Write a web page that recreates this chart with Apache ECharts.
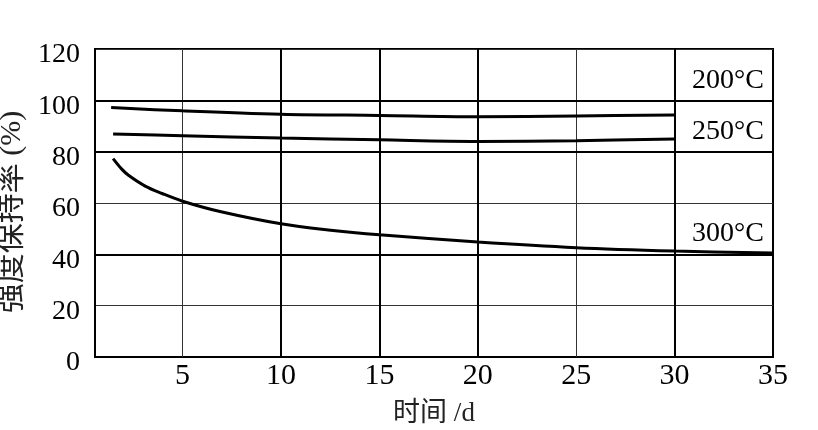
<!DOCTYPE html>
<html>
<head>
<meta charset="utf-8">
<script src="https://cdn.jsdelivr.net/npm/echarts@6/dist/echarts.min.js"></script>
<style>html,body{margin:0;padding:0;background:#fff;}#c{width:818px;height:430px;}</style>
</head>
<body>
<div id="c"></div>
<script>
// data
const s200 = [[1.37, 97.2], [5, 95.9], [10, 94.6], [15, 94.1], [20, 93.6], [25, 93.9], [30, 94.3]];
const s250 = [[1.47, 86.9], [5, 86.2], [10, 85.3], [15, 84.6], [20, 84.0], [25, 84.3], [30, 84.9]];
const s300 = [[1.47, 77.3], [1.91, 73.2], [2.25, 70.8], [3.1, 66.6], [3.96, 63.7], [5, 60.7], [6.9, 56.7], [10, 51.9], [12.4, 49.5], [15, 47.6], [20, 44.8], [25, 42.6], [30, 41.3], [35, 40.5]];
const xTicks = [5, 10, 15, 20, 25, 30, 35];
const xThin = [5, 25];
const xThick = [10, 15, 20, 30];
const yThick = [40, 80, 100];
const seriesNames = ['200°C', '250°C', '300°C'];

const serif = '"Liberation Serif", "Times New Roman", serif';
const mixed = '"Liberation Serif", "Noto Sans CJK SC", serif';

const chart = echarts.init(document.getElementById('c'), null, {renderer: 'canvas'});

const gridLines = [].concat(
  xThin.map(v => ({xAxis: v, lineStyle: {width: 1, color: '#333', type: 'solid'}})),
  xThick.map(v => ({xAxis: v, lineStyle: {width: 2, color: '#000', type: 'solid'}})),
  yThick.map(v => ({yAxis: v, lineStyle: {width: 2, color: '#000', type: 'solid'}}))
);

function lineSeries(name, data, extra) {
  return Object.assign({
    name: name,
    type: 'line',
    data: data,
    smooth: 0.35,
    showSymbol: false,
    symbol: 'none',
    lineStyle: {color: '#000', width: 3},
    z: 5
  }, extra || {});
}

chart.setOption({
  animation: false,
  backgroundColor: '#fff',
  grid: {left: 95, right: 45, top: 49, bottom: 73, outerBoundsMode: 'none', containLabel: false, show: true, borderColor: '#000', borderWidth: 2, backgroundColor: 'transparent'},
  xAxis: {
    type: 'value',
    min: 0.55,
    max: 35,
    name: '时间 /d',
    nameLocation: 'middle',
    nameGap: 43,
    nameTextStyle: {fontFamily: mixed, fontSize: 27, color: '#222'},
    axisLine: {show: true, lineStyle: {color: '#000', width: 2}},
    axisTick: {show: false},
    splitLine: {show: false},
    axisLabel: {
      customValues: xTicks,
      fontFamily: serif,
      fontSize: 30,
      color: '#000',
      margin: 4
    }
  },
  yAxis: {
    type: 'value',
    min: 0,
    max: 120,
    interval: 20,
    name: '强度保持率 (%)',
    nameLocation: 'middle',
    nameGap: 66,
    nameRotate: 90,
    nameTextStyle: {fontFamily: mixed, fontSize: 30, color: '#222', padding: [0, 18, 0, 0]},
    axisLine: {show: true, lineStyle: {color: '#000', width: 2}},
    axisTick: {show: false},
    splitLine: {show: true, lineStyle: {color: '#333', width: 1}},
    axisLabel: {
      fontFamily: serif,
      fontSize: 28,
      color: '#000',
      margin: 15,
      verticalAlign: 'top',
      lineHeight: 12
    }
  },
  series: [
    lineSeries(seriesNames[0], s200),
    lineSeries(seriesNames[1], s250),
    lineSeries(seriesNames[2], s300, {
      markLine: {
        silent: true,
        symbol: 'none',
        label: {show: false},
        animation: false,
        data: gridLines
      }
    })
  ],
  graphic: [
    {type: 'text', left: 692, top: 67, style: {text: seriesNames[0], font: '28px ' + serif, fill: '#000'}},
    {type: 'text', left: 692, top: 118, style: {text: seriesNames[1], font: '28px ' + serif, fill: '#000'}},
    {type: 'text', left: 692, top: 220, style: {text: seriesNames[2], font: '28px ' + serif, fill: '#000'}}
  ]
});
</script>
</body>
</html>
